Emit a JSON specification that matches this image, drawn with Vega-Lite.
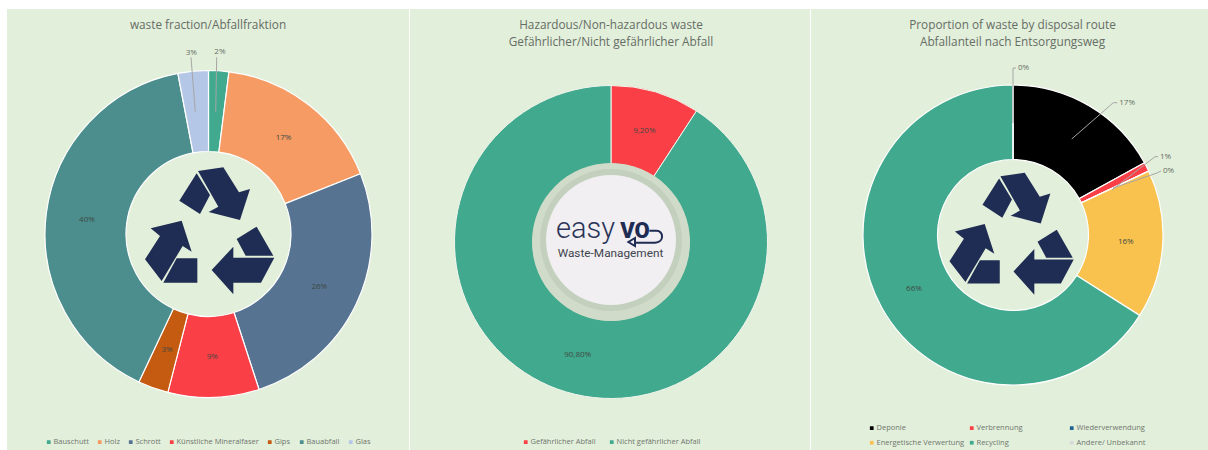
{
  "$schema": "https://vega.github.io/schema/vega-lite/v6.json",
  "background": "#ffffff",
  "padding": {"left": 7, "top": 9, "right": 0, "bottom": 0},
  "autosize": {"type": "pad", "contains": "content"},
  "bounds": "flush",
  "spacing": 1,
  "resolve": {"scale": {"color": "independent", "x": "independent", "y": "independent", "theta": "independent"}, "legend": {"color": "independent"}},
  "config": {
    "view": {"stroke": null, "fill": "#e2efda"},
    "title": {"font": "Open Sans", "fontSize": 11.8, "fontWeight": 400, "color": "#666d66", "lineHeight": 17, "baseline": "alphabetic", "anchor": "middle"},
    "legend": {"title": null, "labelFont": "Open Sans", "labelFontSize": 7.5, "labelColor": "#6f766f", "labelOffset": 1, "symbolType": "square", "symbolSize": 14, "symbolStrokeWidth": 0, "orient": "none", "direction": "horizontal"},
    "text": {"font": "Open Sans", "fontSize": 8, "color": "#3f4a44"}
  },
  "hconcat": [
    {
      "width": 402,
      "height": 441,
      "title": {"text": "waste fraction/Abfallfraktion", "offset": -23},
      "data": {"values": [
        {"name": "Bauschutt", "rank": 1, "share": 2, "label": "2%"},
        {"name": "Holz", "rank": 2, "share": 17, "label": "17%"},
        {"name": "Schrott", "rank": 3, "share": 26, "label": "26%"},
        {"name": "Künstliche Mineralfaser", "rank": 4, "share": 9, "label": "9%"},
        {"name": "Gips", "rank": 5, "share": 3, "label": "3%"},
        {"name": "Bauabfall", "rank": 6, "share": 40, "label": "40%"},
        {"name": "Glas", "rank": 7, "share": 3, "label": "3%"}
      ]},
      "encoding": {
        "x": {"type": "quantitative", "scale": {"domain": [-201.5, 200.5], "nice": false, "zero": false}, "axis": null},
        "y": {"type": "quantitative", "scale": {"domain": [-216, 225], "nice": false, "zero": false}, "axis": null}
      },
      "layer": [
        {
          "mark": {"type": "arc", "outerRadius": 163.5, "innerRadius": 82.5, "stroke": "#ffffff", "strokeWidth": 1.2},
          "encoding": {
            "x": {"datum": 0},
            "y": {"datum": 0},
            "theta": {"field": "share", "type": "quantitative", "stack": true},
            "order": {"field": "rank", "type": "quantitative"},
            "color": {
              "field": "name", "type": "nominal",
              "scale": {
                "domain": ["Bauschutt", "Holz", "Schrott", "Künstliche Mineralfaser", "Gips", "Bauabfall", "Glas"],
                "range": ["#41a98d", "#f79b64", "#567391", "#fb3f46", "#c55a11", "#4b8e8d", "#b4c7e7"]
              },
              "legend": {"legendX": 38, "legendY": 429, "columns": 7, "columnPadding": 7, "gridAlign": "each"}
            }
          }
        },
        {
          "mark": {"type": "text", "radius": 122.5, "dy": 1},
          "encoding": {
            "x": {"datum": 0},
            "y": {"datum": 0},
            "theta": {"field": "share", "type": "quantitative", "stack": true},
            "order": {"field": "rank", "type": "quantitative"},
            "text": {"condition": {"test": "datum.name !== 'Bauschutt' && datum.name !== 'Glas'", "field": "label"}, "value": ""}
          }
        },
        {
          "mark": {"type": "text", "radius": 182, "color": "#666d66"},
          "encoding": {
            "x": {"datum": 0},
            "y": {"datum": 0},
            "theta": {"field": "share", "type": "quantitative", "stack": true},
            "order": {"field": "rank", "type": "quantitative"},
            "text": {"condition": {"test": "datum.name === 'Bauschutt' || datum.name === 'Glas'", "field": "label"}, "value": ""}
          }
        },
        {
          "data": {"values": [
            {"leader": "Bauschutt", "step": 1, "across": 7.2, "up": 122.3},
            {"leader": "Bauschutt", "step": 2, "across": 8.2, "up": 176.7},
            {"leader": "Glas", "step": 1, "across": -13.2, "up": 122.3},
            {"leader": "Glas", "step": 2, "across": -17.5, "up": 176.7}
          ]},
          "mark": {"type": "line", "color": "#a6a6a6", "strokeWidth": 1},
          "encoding": {
            "x": {"field": "across"},
            "y": {"field": "up"},
            "detail": {"field": "leader"},
            "order": {"field": "step", "type": "quantitative"}
          }
        },
        {
          "data": {"values": [{"icon": "recycling symbol", "across": -0.5, "up": 4}]},
          "mark": {
            "type": "point", "filled": true, "opacity": 1, "color": "#1f2c53", "size": 17778,
            "shape": "M-0.17 -0.85L0.03 -0.525L-0.12 -0.24L-0.43 -0.44ZM-0.15 -0.885L0.23 -0.94L0.465 -0.565L0.63 -0.615L0.48 -0.15L0.01 -0.27L0.155 -0.35ZM-0.86 -0.025L-0.395 -0.14L-0.245 0.325L-0.38 0.24L-0.695 0.765L-0.945 0.44L-0.72 0.09ZM-0.47 0.425L-0.16 0.425L-0.16 0.79L-0.67 0.79ZM0.43 0.135L0.73 -0.05L0.98 0.385L0.565 0.385ZM0.055 0.6L0.38 0.25L0.38 0.415L0.995 0.415L0.795 0.79L0.38 0.79L0.38 0.965Z"
          },
          "encoding": {
            "x": {"field": "across"},
            "y": {"field": "up"}
          }
        }
      ]
    },
    {
      "width": 400,
      "height": 441,
      "title": {"text": ["Hazardous/Non-hazardous waste", "Gefährlicher/Nicht gefährlicher Abfall"], "offset": -40, "dx": 1},
      "data": {"values": [
        {"name": "Gefährlicher Abfall", "rank": 1, "share": 9.2, "label": "9,20%"},
        {"name": "Nicht gefährlicher Abfall", "rank": 2, "share": 90.8, "label": "90,80%"}
      ]},
      "encoding": {
        "x": {"type": "quantitative", "scale": {"domain": [-201, 199], "nice": false, "zero": false}, "axis": null},
        "y": {"type": "quantitative", "scale": {"domain": [-208, 233], "nice": false, "zero": false}, "axis": null}
      },
      "layer": [
        {
          "mark": {"type": "arc", "outerRadius": 156.5, "innerRadius": 78, "stroke": "#f2f6ef", "strokeWidth": 1},
          "encoding": {
            "x": {"datum": 0},
            "y": {"datum": 0},
            "theta": {"field": "share", "type": "quantitative", "stack": true},
            "order": {"field": "rank", "type": "quantitative"},
            "color": {
              "field": "name", "type": "nominal",
              "scale": {"domain": ["Gefährlicher Abfall", "Nicht gefährlicher Abfall"], "range": ["#fb3f46", "#41a98d"]},
              "legend": {"legendX": 112, "legendY": 429, "columns": 2, "columnPadding": 12, "gridAlign": "each"}
            }
          }
        },
        {
          "mark": {"type": "text", "radius": 117, "dy": 1},
          "encoding": {
            "x": {"datum": 0},
            "y": {"datum": 0},
            "theta": {"field": "share", "type": "quantitative", "stack": true},
            "order": {"field": "rank", "type": "quantitative"},
            "text": {"field": "label"}
          }
        },
        {"data": {"values": [{"part": "badge rim"}]}, "mark": {"type": "point", "filled": true, "opacity": 1, "color": "#d0dcc9", "size": 24964}, "encoding": {"x": {"datum": 0}, "y": {"datum": 0}}},
        {"data": {"values": [{"part": "badge inner rim"}]}, "mark": {"type": "point", "filled": true, "opacity": 1, "color": "#c4d0be", "size": 20164}, "encoding": {"x": {"datum": 0}, "y": {"datum": 2}}},
        {"data": {"values": [{"part": "badge face"}]}, "mark": {"type": "point", "filled": true, "opacity": 1, "color": "#f1eff1", "size": 16900}, "encoding": {"x": {"datum": 0}, "y": {"datum": 2}}},
        {
          "data": {"values": [{"word": "easy", "across": -25.5, "up": 4.3}]},
          "mark": {"type": "text", "font": "Roboto", "fontWeight": 300, "fontSize": 29, "color": "#2a3358", "align": "center", "baseline": "alphabetic"},
          "encoding": {"x": {"field": "across"}, "y": {"field": "up"}, "text": {"field": "word"}}
        },
        {
          "data": {"values": [{"word": "VO", "across": 24, "up": 4.3}]},
          "mark": {"type": "text", "font": "Roboto", "fontWeight": 900, "fontSize": 22, "color": "#1f2c53", "align": "center", "baseline": "alphabetic"},
          "encoding": {"x": {"field": "across"}, "y": {"field": "up"}, "text": {"field": "word"}}
        },
        {
          "data": {"values": [{"word": "Waste-Management", "across": -0.5, "up": -15}]},
          "mark": {"type": "text", "font": "Roboto", "fontSize": 11.8, "color": "#40444f", "align": "center", "baseline": "alphabetic"},
          "encoding": {"x": {"field": "across"}, "y": {"field": "up"}, "text": {"field": "word"}}
        },
        {
          "data": {"values": [{"icon": "return arrow", "across": 34, "up": 2}]},
          "mark": {
            "type": "point", "filled": false, "opacity": 1, "stroke": "#1f2c53", "strokeWidth": 2, "size": 1600,
            "shape": "M0.217 -0.467L0.583 -0.467C0.917 -0.467 1 0.117 0.5 0.133L-0.5 0.133M-0.5 -0.1L-0.83 0.1L-0.5 0.3Z"
          },
          "encoding": {"x": {"field": "across"}, "y": {"field": "up"}}
        }
      ]
    },
    {
      "width": 397,
      "height": 441,
      "title": {"text": ["Proportion of waste by disposal route", "Abfallanteil nach Entsorgungsweg"], "offset": -40, "dx": 3},
      "data": {"values": [
        {"name": "Deponie", "rank": 1, "share": 17, "label": "17%"},
        {"name": "Verbrennung", "rank": 2, "share": 1, "label": "1%"},
        {"name": "Wiederverwendung", "rank": 3, "share": 0, "label": "0%"},
        {"name": "Energetische Verwertung", "rank": 4, "share": 16, "label": "16%"},
        {"name": "Recycling", "rank": 5, "share": 66, "label": "66%"},
        {"name": "Andere/ Unbekannt", "rank": 6, "share": 0, "label": "0%"}
      ]},
      "encoding": {
        "x": {"type": "quantitative", "scale": {"domain": [-202, 195], "nice": false, "zero": false}, "axis": null},
        "y": {"type": "quantitative", "scale": {"domain": [-215, 226], "nice": false, "zero": false}, "axis": null}
      },
      "layer": [
        {
          "mark": {"type": "arc", "outerRadius": 150, "innerRadius": 75.5, "stroke": "#ffffff", "strokeWidth": 1.2},
          "encoding": {
            "x": {"datum": 0},
            "y": {"datum": 0},
            "theta": {"field": "share", "type": "quantitative", "stack": true},
            "order": {"field": "rank", "type": "quantitative"},
            "color": {
              "field": "name", "type": "nominal",
              "scale": {
                "domain": ["Deponie", "Verbrennung", "Wiederverwendung", "Energetische Verwertung", "Recycling", "Andere/ Unbekannt"],
                "range": ["#000000", "#fb3f46", "#1f6391", "#f9c24f", "#41a98d", "#d9d9d9"]
              },
              "legend": {"legendX": 57, "legendY": 415, "columns": 3, "columnPadding": 3, "gridAlign": "all", "rowPadding": 6}
            }
          }
        },
        {
          "mark": {"type": "text", "radius": 113},
          "encoding": {
            "x": {"datum": 0},
            "y": {"datum": 0},
            "theta": {"field": "share", "type": "quantitative", "stack": true},
            "order": {"field": "rank", "type": "quantitative"},
            "text": {"condition": {"test": "datum.name === 'Energetische Verwertung' || datum.name === 'Recycling'", "field": "label"}, "value": ""}
          }
        },
        {
          "data": {"values": [
            {"leader": "Andere", "step": 1, "across": 0, "up": 112},
            {"leader": "Andere", "step": 2, "across": 0, "up": 167},
            {"leader": "Andere", "step": 3, "across": 3, "up": 167},
            {"leader": "Deponie", "step": 1, "across": 58.7, "up": 96},
            {"leader": "Deponie", "step": 2, "across": 100.3, "up": 132.3},
            {"leader": "Deponie", "step": 3, "across": 104.3, "up": 132.3},
            {"leader": "Verbrennung", "step": 1, "across": 99, "up": 45},
            {"leader": "Verbrennung", "step": 2, "across": 142, "up": 78.3},
            {"leader": "Verbrennung", "step": 3, "across": 145, "up": 78.3},
            {"leader": "Wiederverwendung", "step": 1, "across": 100, "up": 47},
            {"leader": "Wiederverwendung", "step": 2, "across": 144, "up": 62},
            {"leader": "Wiederverwendung", "step": 3, "across": 148, "up": 64}
          ]},
          "mark": {"type": "line", "color": "#a6a6a6", "strokeWidth": 1},
          "encoding": {
            "x": {"field": "across"},
            "y": {"field": "up"},
            "detail": {"field": "leader"},
            "order": {"field": "step", "type": "quantitative"}
          }
        },
        {
          "data": {"values": [
            {"across": 3, "up": 167, "label": "0%"},
            {"across": 104.3, "up": 132.3, "label": "17%"},
            {"across": 145, "up": 78.3, "label": "1%"},
            {"across": 148, "up": 64, "label": "0%"}
          ]},
          "mark": {"type": "text", "align": "left", "dx": 2, "color": "#666d66"},
          "encoding": {
            "x": {"field": "across"},
            "y": {"field": "up"},
            "text": {"field": "label"}
          }
        },
        {
          "data": {"values": [{"icon": "recycling symbol", "across": -3, "up": 2}]},
          "mark": {
            "type": "point", "filled": true, "opacity": 1, "color": "#1f2c53", "size": 16400,
            "shape": "M-0.17 -0.85L0.03 -0.525L-0.12 -0.24L-0.43 -0.44ZM-0.15 -0.885L0.23 -0.94L0.465 -0.565L0.63 -0.615L0.48 -0.15L0.01 -0.27L0.155 -0.35ZM-0.86 -0.025L-0.395 -0.14L-0.245 0.325L-0.38 0.24L-0.695 0.765L-0.945 0.44L-0.72 0.09ZM-0.47 0.425L-0.16 0.425L-0.16 0.79L-0.67 0.79ZM0.43 0.135L0.73 -0.05L0.98 0.385L0.565 0.385ZM0.055 0.6L0.38 0.25L0.38 0.415L0.995 0.415L0.795 0.79L0.38 0.79L0.38 0.965Z"
          },
          "encoding": {
            "x": {"field": "across"},
            "y": {"field": "up"}
          }
        }
      ]
    }
  ]
}
